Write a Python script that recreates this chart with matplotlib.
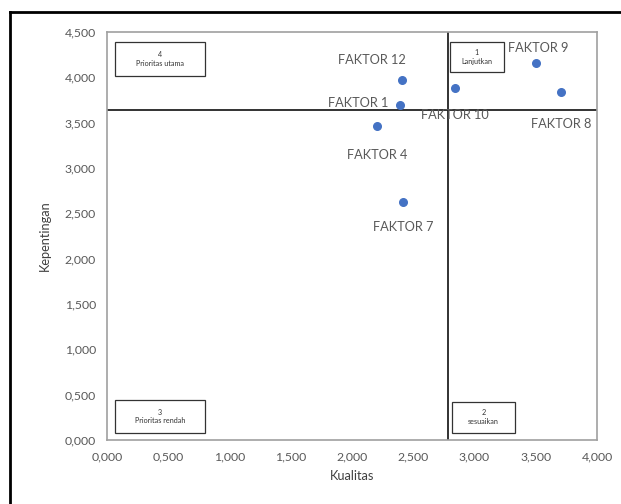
import matplotlib.pyplot as plt
from matplotlib.patches import Rectangle
from matplotlib.lines import Line2D
from matplotlib.ticker import FuncFormatter

plt.rcParams['font.family'] = ['Lato', 'DejaVu Sans']

# data
faktor = ['FAKTOR 12', 'FAKTOR 1', 'FAKTOR 4', 'FAKTOR 10', 'FAKTOR 9', 'FAKTOR 8', 'FAKTOR 7']
kualitas = [2.41, 2.39, 2.20, 2.84, 3.50, 3.71, 2.42]
kepentingan = [3.97, 3.70, 3.46, 3.88, 4.16, 3.84, 2.62]
rata_kualitas = 2.78
rata_kepentingan = 3.64

# offset label (pixel)
offsets = [(-30, 20), (-42, 2), (1, -29), (0, -27), (2, 15), (0, -32), (0, -25)]

kuadran = ['4\nPrioritas utama', '1\nLanjutkan', '3\nPrioritas rendah', '2\nsesuaikan']
kotak = [(0.065, 4.01, 0.735, 0.38), (2.80, 4.06, 0.44, 0.33),
         (0.065, 0.08, 0.735, 0.36), (2.82, 0.08, 0.51, 0.34)]

fig = plt.figure(figsize=(6.21, 5.04), dpi=100)
ax = fig.add_axes([107 / 621, 64 / 504, 490 / 621, 408 / 504])

ax.scatter(kualitas, kepentingan, s=30, color='#4472C4', zorder=3)
for nama, x, y, off in zip(faktor, kualitas, kepentingan, offsets):
    ax.annotate(nama, (x, y), xytext=off, textcoords='offset pixels',
                ha='center', va='center', fontsize=9.2, color='#595959')

ax.axvline(rata_kualitas, color='#222222', lw=1.3, zorder=2)
ax.axhline(rata_kepentingan, color='#222222', lw=1.3, zorder=2)

for teks, (x0, y0, w, h) in zip(kuadran, kotak):
    ax.add_patch(Rectangle((x0, y0), w, h, fill=False, edgecolor='#333333', lw=0.9, zorder=2))
    ax.text(x0 + w / 2, y0 + h / 2, teks, ha='center', va='center',
            fontsize=5.2, color='#333333', linespacing=1.3)

ax.set_xlim(0, 4)
ax.set_ylim(0, 4.5)
ax.set_xticks([i * 0.5 for i in range(9)])
ax.set_yticks([i * 0.5 for i in range(10)])
fmt = FuncFormatter(lambda v, p: '{:.3f}'.format(v).replace('.', ','))
ax.xaxis.set_major_formatter(fmt)
ax.yaxis.set_major_formatter(fmt)
ax.tick_params(length=0, labelsize=8.8, labelcolor='#595959', pad=8)

for s in ax.spines.values():
    s.set_color('#a0a0a0')
    s.set_linewidth(1.2)

ax.set_xlabel('Kualitas', fontsize=9.2, color='#404040', labelpad=6)
ax.set_ylabel('Kepentingan', fontsize=9.2, color='#404040', labelpad=10)

# bingkai luar
fig.add_artist(Line2D([10 / 621, 1.0], [1 - 12 / 504, 1 - 12 / 504], color='black', lw=2))
fig.add_artist(Line2D([10 / 621, 10 / 621], [0.0, 1 - 12 / 504], color='black', lw=2))

plt.savefig('out.png', dpi=100)
